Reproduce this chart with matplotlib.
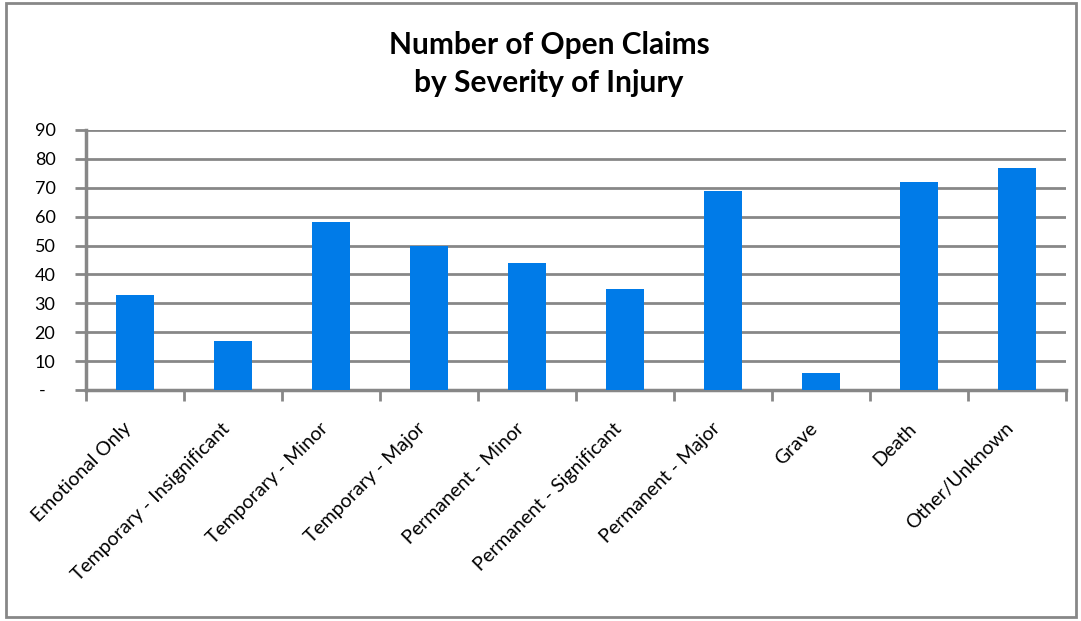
import matplotlib.pyplot as plt
import numpy as np
from matplotlib.patches import Rectangle

categories = ["Emotional Only", "Temporary - Insignificant", "Temporary - Minor",
              "Temporary - Major", "Permanent - Minor", "Permanent - Significant",
              "Permanent - Major", "Grave", "Death", "Other/Unknown"]
open_claims = [33, 17, 58, 50, 44, 35, 69, 6, 72, 77]
y_ticks = [0, 10, 20, 30, 40, 50, 60, 70, 80, 90]
y_tick_labels = ["-  ", "10", "20", "30", "40", "50", "60", "70", "80", "90"]

plt.rcParams['font.family'] = ['Lato', 'DejaVu Sans']

fig = plt.figure(figsize=(10.81, 6.21), dpi=100)
ax = fig.add_axes([86 / 1081, 1 - 390 / 621, 980 / 1081, 260 / 621])

x = np.arange(len(categories))
ax.bar(x, open_claims, width=0.385, color='#007BE8', zorder=3)

ax.set_xlim(-0.5, len(categories) - 0.5)
ax.set_ylim(0, 90)
ax.set_yticks(y_ticks)
ax.set_yticklabels(y_tick_labels, fontsize=13)
ax.yaxis.grid(True, color='#878787', linewidth=2, zorder=0)

# ticks between categories, labels at centres
ax.set_xticks(np.arange(len(categories) + 1) - 0.5)
ax.set_xticklabels([])
ax.set_xticks(x, minor=True)
ax.set_xticklabels(categories, minor=True, rotation=45, ha='right', va='bottom',
                   rotation_mode='anchor', fontsize=14)
ax.tick_params(axis='x', which='minor', length=0, pad=30)
ax.tick_params(axis='x', which='major', direction='out', length=8, width=2, color='#878787')
ax.tick_params(axis='y', direction='out', length=8, width=2, color='#878787', pad=14)

for side in ['top', 'right']:
    ax.spines[side].set_visible(False)
for side in ['left', 'bottom']:
    ax.spines[side].set_color('#878787')
    ax.spines[side].set_linewidth(2.5)

fig.text(549 / 1081, 1 - 64 / 621, "Number of Open Claims\nby Severity of Injury",
         ha='center', va='center', fontsize=21.5, fontweight='bold', linespacing=1.42)

# outer chart frame
fig.patches.append(Rectangle((6 / 1081, 4 / 621), 1070 / 1081, 614 / 621,
                             transform=fig.transFigure, fill=False,
                             edgecolor='#878787', linewidth=2))

plt.savefig('out.png', dpi=100)
